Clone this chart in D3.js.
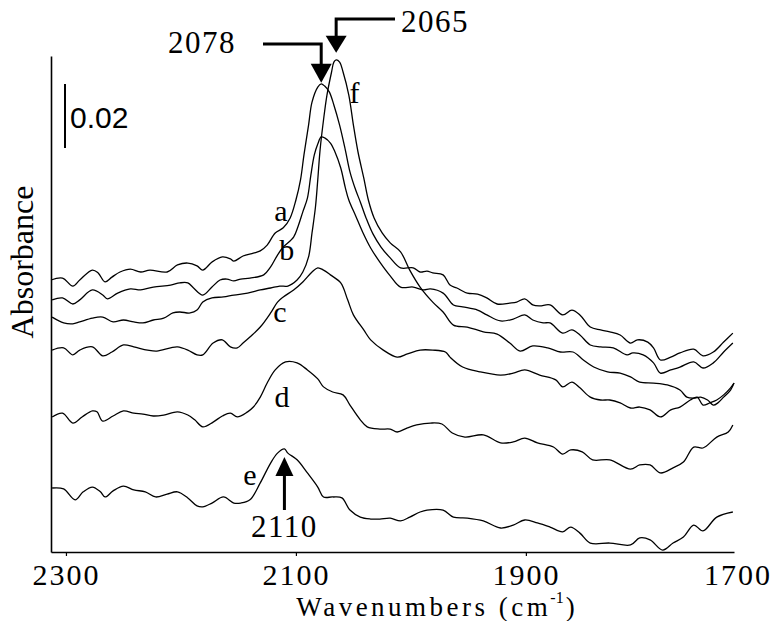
<!DOCTYPE html>
<html>
<head>
<meta charset="utf-8">
<script src="https://cdn.jsdelivr.net/npm/d3@7"></script>
<style>
  body { margin: 0; background: #fff; }
  svg { display: block; }
  text { font-family: "Liberation Serif", "Times New Roman", serif; fill: #000; }
</style>
</head>
<body>
<svg width="773" height="621"></svg>
<script>
// spectra, [wavenumber cm-1, absorbance], stacked as in the figure
var specA = [[2313,0.0850],[2303,0.0856],[2294,0.0831],[2288,0.0850],[2277,0.0881],[2272,0.0872],[2266,0.0844],[2260,0.0859],[2253,0.0875],[2244,0.0884],[2235,0.0875],[2227,0.0881],[2212,0.0875],[2203,0.0897],[2194,0.0903],[2186,0.0894],[2181,0.0881],[2173,0.0906],[2164,0.0922],[2157,0.0916],[2154,0.0909],[2146,0.0925],[2137,0.0934],[2131,0.0941],[2125,0.0959],[2118,0.0997],[2111,0.1013],[2105,0.1044],[2100,0.1100],[2096,0.1163],[2093,0.1241],[2089,0.1334],[2086,0.1406],[2081,0.1453],[2078,0.1463],[2075,0.1456],[2071,0.1438],[2067,0.1397],[2062,0.1334],[2057,0.1256],[2053,0.1188],[2048,0.1131],[2044,0.1094],[2039,0.1044],[2033,0.0994],[2026,0.0953],[2018,0.0919],[2009,0.0888],[1998,0.0888],[1992,0.0875],[1986,0.0878],[1981,0.0872],[1972,0.0866],[1966,0.0834],[1960,0.0825],[1951,0.0809],[1942,0.0806],[1934,0.0794],[1925,0.0775],[1914,0.0778],[1908,0.0781],[1901,0.0791],[1894,0.0772],[1888,0.0769],[1879,0.0772],[1868,0.0741],[1860,0.0756],[1853,0.0741],[1844,0.0703],[1835,0.0694],[1827,0.0688],[1818,0.0678],[1809,0.0653],[1803,0.0663],[1794,0.0656],[1789,0.0638],[1783,0.0600],[1774,0.0609],[1766,0.0622],[1754,0.0634],[1746,0.0613],[1737,0.0625],[1728,0.0656],[1720,0.0684]];

var specB = [[2312,0.0788],[2303,0.0794],[2294,0.0775],[2288,0.0788],[2277,0.0819],[2268,0.0803],[2264,0.0791],[2255,0.0809],[2244,0.0822],[2235,0.0819],[2224,0.0828],[2209,0.0834],[2201,0.0841],[2194,0.0841],[2189,0.0825],[2181,0.0803],[2173,0.0828],[2166,0.0850],[2160,0.0853],[2154,0.0847],[2148,0.0853],[2140,0.0856],[2128,0.0866],[2122,0.0891],[2116,0.0928],[2111,0.0953],[2102,0.0984],[2098,0.1019],[2094,0.1063],[2090,0.1106],[2087,0.1178],[2084,0.1241],[2081,0.1275],[2078,0.1297],[2075,0.1294],[2070,0.1278],[2066,0.1250],[2061,0.1200],[2057,0.1138],[2054,0.1100],[2048,0.1050],[2042,0.1000],[2035,0.0950],[2027,0.0906],[2018,0.0863],[2009,0.0828],[1998,0.0828],[1989,0.0819],[1983,0.0822],[1972,0.0809],[1963,0.0772],[1955,0.0766],[1942,0.0756],[1934,0.0741],[1922,0.0722],[1911,0.0728],[1901,0.0741],[1894,0.0725],[1885,0.0716],[1879,0.0716],[1868,0.0684],[1860,0.0694],[1853,0.0678],[1844,0.0647],[1835,0.0641],[1824,0.0638],[1812,0.0616],[1807,0.0622],[1798,0.0616],[1789,0.0591],[1783,0.0559],[1774,0.0569],[1766,0.0578],[1754,0.0594],[1746,0.0575],[1737,0.0591],[1728,0.0625],[1720,0.0653]];

var specC = [[2312,0.0631],[2302,0.0638],[2294,0.0616],[2288,0.0631],[2277,0.0641],[2268,0.0613],[2260,0.0625],[2250,0.0647],[2241,0.0641],[2229,0.0631],[2221,0.0628],[2209,0.0638],[2203,0.0641],[2194,0.0631],[2186,0.0616],[2181,0.0616],[2172,0.0653],[2164,0.0663],[2157,0.0641],[2151,0.0638],[2146,0.0653],[2140,0.0672],[2131,0.0703],[2122,0.0747],[2116,0.0781],[2111,0.0797],[2102,0.0819],[2094,0.0844],[2086,0.0875],[2081,0.0888],[2076,0.0881],[2070,0.0866],[2061,0.0841],[2055,0.0788],[2050,0.0741],[2041,0.0694],[2035,0.0663],[2024,0.0631],[2012,0.0609],[2003,0.0619],[1992,0.0631],[1981,0.0631],[1970,0.0625],[1966,0.0609],[1955,0.0578],[1940,0.0563],[1922,0.0553],[1911,0.0559],[1901,0.0569],[1888,0.0553],[1874,0.0538],[1868,0.0516],[1860,0.0531],[1853,0.0513],[1844,0.0484],[1835,0.0475],[1827,0.0475],[1818,0.0466],[1809,0.0450],[1801,0.0453],[1792,0.0444],[1783,0.0422],[1774,0.0444],[1766,0.0453],[1757,0.0475],[1751,0.0484],[1746,0.0459],[1740,0.0466],[1734,0.0475],[1728,0.0491],[1722,0.0513],[1719,0.0528]];

var specD = [[2312,0.0422],[2303,0.0434],[2294,0.0403],[2286,0.0422],[2277,0.0441],[2273,0.0438],[2268,0.0409],[2259,0.0425],[2250,0.0441],[2241,0.0434],[2233,0.0431],[2224,0.0425],[2215,0.0428],[2203,0.0438],[2194,0.0428],[2188,0.0413],[2181,0.0391],[2172,0.0406],[2164,0.0425],[2157,0.0434],[2151,0.0422],[2142,0.0438],[2137,0.0453],[2131,0.0484],[2125,0.0528],[2118,0.0569],[2109,0.0594],[2099,0.0591],[2090,0.0569],[2081,0.0541],[2076,0.0516],[2068,0.0500],[2059,0.0491],[2053,0.0459],[2044,0.0413],[2038,0.0391],[2027,0.0384],[2018,0.0384],[2012,0.0375],[2003,0.0388],[1995,0.0397],[1983,0.0403],[1973,0.0400],[1964,0.0372],[1953,0.0359],[1937,0.0366],[1922,0.0341],[1911,0.0344],[1901,0.0356],[1890,0.0341],[1876,0.0328],[1868,0.0306],[1861,0.0319],[1851,0.0313],[1842,0.0288],[1827,0.0288],[1809,0.0259],[1801,0.0272],[1792,0.0272],[1783,0.0247],[1772,0.0263],[1763,0.0281],[1754,0.0328],[1746,0.0325],[1734,0.0359],[1724,0.0375],[1720,0.0397]];

var specE = [[2312,0.0200],[2302,0.0197],[2292,0.0163],[2285,0.0188],[2277,0.0203],[2270,0.0188],[2266,0.0172],[2259,0.0191],[2250,0.0206],[2241,0.0194],[2231,0.0188],[2222,0.0172],[2212,0.0181],[2203,0.0188],[2194,0.0169],[2186,0.0144],[2181,0.0141],[2173,0.0153],[2163,0.0172],[2154,0.0153],[2148,0.0153],[2140,0.0163],[2131,0.0216],[2122,0.0278],[2116,0.0309],[2110,0.0322],[2107,0.0309],[2099,0.0288],[2090,0.0247],[2081,0.0203],[2076,0.0172],[2068,0.0172],[2060,0.0169],[2053,0.0131],[2044,0.0109],[2035,0.0103],[2027,0.0103],[2018,0.0106],[2009,0.0097],[2001,0.0109],[1992,0.0125],[1986,0.0131],[1972,0.0131],[1963,0.0109],[1951,0.0106],[1937,0.0097],[1922,0.0075],[1911,0.0084],[1901,0.0100],[1890,0.0091],[1879,0.0078],[1868,0.0063],[1861,0.0078],[1853,0.0059],[1844,0.0028],[1827,0.0028],[1809,0.0022],[1801,0.0044],[1792,0.0038],[1781,0.0006],[1772,0.0028],[1763,0.0047],[1754,0.0084],[1746,0.0066],[1734,0.0109],[1720,0.0125]];

var specF = [[2312,0.0734],[2302,0.0716],[2294,0.0713],[2288,0.0719],[2277,0.0731],[2268,0.0734],[2259,0.0719],[2250,0.0725],[2241,0.0719],[2233,0.0716],[2224,0.0725],[2215,0.0731],[2207,0.0747],[2201,0.0750],[2192,0.0747],[2186,0.0756],[2181,0.0781],[2173,0.0794],[2163,0.0797],[2154,0.0803],[2142,0.0809],[2131,0.0819],[2122,0.0825],[2114,0.0831],[2107,0.0831],[2099,0.0850],[2094,0.0875],[2089,0.0922],[2086,0.0997],[2083,0.1078],[2081,0.1163],[2079,0.1256],[2076,0.1350],[2073,0.1428],[2069,0.1500],[2067,0.1531],[2065,0.1538],[2062,0.1531],[2059,0.1500],[2054,0.1428],[2050,0.1334],[2046,0.1250],[2041,0.1169],[2037,0.1100],[2032,0.1044],[2025,0.0997],[2018,0.0966],[2009,0.0938],[2001,0.0881],[1992,0.0828],[1981,0.0781],[1972,0.0750],[1963,0.0709],[1951,0.0703],[1937,0.0688],[1925,0.0681],[1914,0.0653],[1905,0.0628],[1894,0.0644],[1881,0.0638],[1870,0.0625],[1859,0.0625],[1850,0.0600],[1841,0.0578],[1829,0.0563],[1818,0.0559],[1809,0.0547],[1801,0.0531],[1789,0.0528],[1777,0.0522],[1766,0.0506],[1760,0.0484],[1754,0.0481],[1748,0.0484],[1742,0.0475],[1737,0.0459],[1733,0.0466],[1728,0.0484],[1722,0.0506],[1719,0.0528]];

var spectra = [specA, specB, specC, specD, specE, specF];
var curveNames = ["a", "b", "c", "d", "e", "f"];
// where each letter sits, [wavenumber, absorbance]
var curveLabelAt = [[2113,0.1034],[2108,0.0913],[2114,0.0719],[2112,0.0453],[2140,0.0209],[2049,0.1403]];
var xTicks = [2300, 2100, 1900];
var peakMarks = [2078, 2065, 2110];
var scaleBar = 0.02;

var svg = d3.select("svg");

var x = d3.scaleLinear().domain([2313, 1719]).range([51, 734]);
var y = d3.scaleLinear().domain([0, 0.155]).range([552, 56]);

// axes
var xAxis = d3.axisBottom(x).tickValues(xTicks).tickSize(4).tickSizeOuter(0).tickFormat(d3.format("d"));
var gx = svg.append("g").attr("transform", "translate(0," + y(0) + ")").call(xAxis);
gx.select(".domain").attr("stroke", "#000").attr("stroke-width", 1.6);
gx.selectAll(".tick line").attr("stroke", "#000").attr("stroke-width", 1.2);
gx.selectAll(".tick text")
  .attr("y", 33).attr("dy", null)
  .style("font-family", '"Liberation Serif", "Times New Roman", serif')
  .style("font-size", "30px").style("letter-spacing", "2px").attr("fill", "#000");
// end label of the axis
gx.append("text").attr("x", x.range()[1] + 4).attr("y", 33)
  .attr("text-anchor", "middle").style("font-size", "30px").style("letter-spacing", "2px")
  .text("1700");

var yAxis = d3.axisLeft(y).tickValues([]).tickSizeOuter(0);
var gy = svg.append("g").attr("transform", "translate(" + x.range()[0] + ",0)").call(yAxis);
gy.select(".domain").attr("stroke", "#000").attr("stroke-width", 1.6);

svg.append("text")
  .attr("transform", "translate(33,262) rotate(-90)")
  .attr("text-anchor", "middle").style("font-size", "32px")
  .text("Absorbance");

// x title as three pieces so the superscript sits cleanly beside "cm"
var t1 = svg.append("text").attr("y", 616).style("font-size", "27px").style("letter-spacing", "3.5px")
  .text("Wavenumbers (cm");
var t2 = svg.append("text").attr("y", 603).style("font-size", "16px").text("-1");
var t3 = svg.append("text").attr("y", 616).style("font-size", "27px").text(")");
var w1 = t1.node().getComputedTextLength(), w2 = t2.node().getComputedTextLength(), w3 = t3.node().getComputedTextLength();
var tx = 436 - (w1 + w2 + w3 + 2) / 2;
t1.attr("x", tx);
t2.attr("x", tx + w1 - 1);
t3.attr("x", tx + w1 + w2 + 1);

// spectra
var line = d3.line()
  .x(function(d) { return x(d[0]); })
  .y(function(d) { return y(d[1]); })
  .curve(d3.curveCatmullRom.alpha(0.5));

svg.append("g").selectAll("path")
  .data(spectra)
  .enter().append("path")
  .attr("d", line)
  .attr("fill", "none")
  .attr("stroke", "#000")
  .attr("stroke-width", 1.3)
  .attr("stroke-linejoin", "round");

svg.append("g").selectAll("text")
  .data(curveLabelAt)
  .enter().append("text")
  .attr("x", function(d) { return x(d[0]); })
  .attr("y", function(d) { return y(d[1]); })
  .attr("text-anchor", "middle")
  .style("font-size", "30px")
  .text(function(d, i) { return curveNames[i]; });

// scale bar 0.02
var barX = 65, barTop = 84;
svg.append("line")
  .attr("x1", barX).attr("x2", barX)
  .attr("y1", barTop).attr("y2", barTop + (y(0) - y(scaleBar)))
  .attr("stroke", "#000").attr("stroke-width", 2);
svg.append("text").attr("x", barX + 5).attr("y", 128)
  .style("font-family", '"Liberation Sans", Arial, sans-serif').style("font-size", "30px")
  .text("0.02");

// peak arrows
function peakOf(spec, wn) {
  var p = spec.filter(function(d) { return d[0] === wn; })[0];
  return p[1];
}
function downArrow(wn, absTop, tipGap, barY, leftX, labelX, labelY, label, headLen, headW) {
  var px = x(wn), tip = y(absTop) - tipGap;
  svg.append("path")
    .attr("d", "M" + leftX + "," + barY + "H" + px + "V" + (tip - headLen + 2))
    .attr("fill", "none").attr("stroke", "#000").attr("stroke-width", 3);
  svg.append("path")
    .attr("d", "M" + (px - headW / 2) + "," + (tip - headLen) + "L" + (px + headW / 2) + "," + (tip - headLen) + "L" + px + "," + tip + "Z")
    .attr("fill", "#000");
  svg.append("text").attr("x", labelX).attr("y", labelY)
    .attr("text-anchor", "middle").style("font-size", "31px").style("letter-spacing", "1.5px")
    .text(label);
}
downArrow(peakMarks[0], peakOf(specA, 2078), 1, 44, 263, 202, 53, "2078", 19, 21);
downArrow(peakMarks[1], peakOf(specF, 2065), 7, 19, 395, 435, 32, "2065", 17, 21);

// 2110 arrow pointing up into peak e
(function() {
  var px = x(peakMarks[2]), tip = y(peakOf(specE, 2110)) + 8;
  svg.append("line").attr("x1", px).attr("x2", px).attr("y1", tip + 16).attr("y2", 510)
    .attr("stroke", "#000").attr("stroke-width", 3);
  svg.append("path")
    .attr("d", "M" + (px - 9) + "," + (tip + 19) + "L" + (px + 9) + "," + (tip + 19) + "L" + px + "," + tip + "Z")
    .attr("fill", "#000");
  svg.append("text").attr("x", px).attr("y", 537)
    .attr("text-anchor", "middle").style("font-size", "31px").style("letter-spacing", "1.5px")
    .text("2110");
})();
</script>
</body>
</html>
